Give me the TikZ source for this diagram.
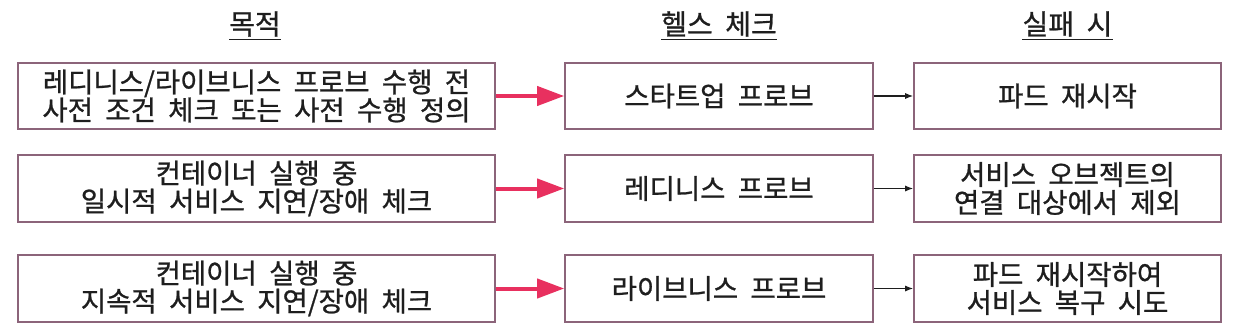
\documentclass[tikz,border=0pt]{standalone}
\usepackage{fontspec}
\setmainfont[WordSpace=2.0,FakeBold=0.9]{Noto Sans CJK KR}
\usetikzlibrary{arrows.meta}
\definecolor{boxline}{RGB}{140,100,122}
\definecolor{redarrow}{RGB}{232,48,95}
\definecolor{txt}{RGB}{30,30,30}
\tikzset{
  box/.style={draw=boxline, line width=1.6pt, rectangle, minimum height=66.5pt, align=center, inner sep=0pt, text=txt,
    font=\fontsize{27.5}{28}\selectfont},
  leftbox/.style={box, minimum width=477pt},
  midbox/.style={box, minimum width=308pt},
  rightbox/.style={box, minimum width=307pt},
  head/.style={anchor=base, inner sep=0pt, text=txt, font=\fontsize{28}{28}\selectfont},
  ul/.style={draw=txt, line width=1.4pt},
  redarr/.style={draw=redarrow, line width=4pt, -{Triangle[length=27pt,width=19pt]}},
  blackarr/.style={draw=txt, line width=1.2pt, -{Latex[length=8pt,width=6pt]}},
}
\begin{document}
\begin{tikzpicture}[x=1pt,y=-1pt]
\useasboundingbox (0,0) rectangle (1238,334);
% headers
\node[head] (h1) at (255,34.5) {목적};
\node[head] (h2) at (719,34.5) {헬스 체크};
\node[head] (h3) at (1067.5,34.5) {실패 시};
\foreach \h in {h1,h2,h3}{
  \draw[ul] ([yshift=-5pt]\h.base west) -- ([yshift=-5pt]\h.base east);
}
% row 1
\node[leftbox] (l1) at (256.5,96) {레디니스/라이브니스 프로브 수행 전\\사전 조건 체크 또는 사전 수행 정의};
\node[midbox] (m1) at (719,96) {스타트업 프로브};
\node[rightbox] (r1) at (1067.5,96) {파드 재시작};
% row 2
\node[leftbox] (l2) at (256.5,188.5) {컨테이너 실행 중\\일시적 서비스 지연/장애 체크};
\node[midbox] (m2) at (719,188.5) {레디니스 프로브};
\node[rightbox] (r2) at (1067.5,188.5) {서비스 오브젝트의\\연결 대상에서 제외};
% row 3
\node[leftbox] (l3) at (256.5,288.5) {컨테이너 실행 중\\지속적 서비스 지연/장애 체크};
\node[midbox] (m3) at (719,288.5) {라이브니스 프로브};
\node[rightbox] (r3) at (1067.5,288.5) {파드 재시작하여\\서비스 복구 시도};
% arrows
\foreach \i in {1,2,3}{
  \draw[redarr] (l\i.east) -- (m\i.west);
  \draw[blackarr] (m\i.east) -- (r\i.west);
}
\end{tikzpicture}
\end{document}
